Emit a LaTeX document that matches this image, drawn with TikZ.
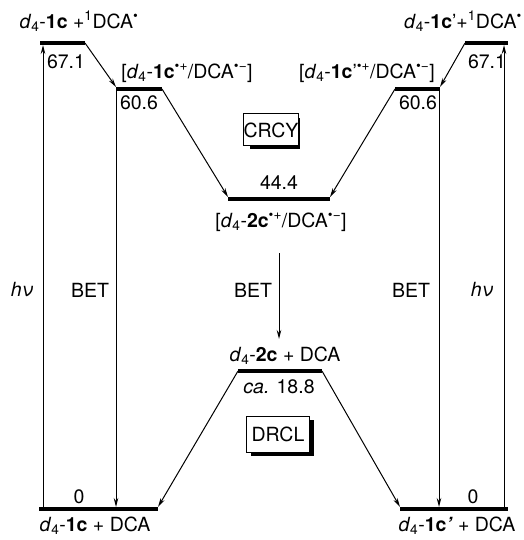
\documentclass[tikz,border=0pt]{standalone}
\usepackage{fontspec}
\setmainfont{TeX Gyre Heros}
\usetikzlibrary{arrows.meta}
\newcommand\dd{\textit{d}\textsubscript{4}-}
\newcommand\rcat{\textsuperscript{\textbullet+}}
\newcommand\ran{\textsuperscript{\textbullet−}}
\newcommand\rdot{\textsuperscript{\textbullet}}
\begin{document}
\begin{tikzpicture}[x=1pt,y=-1pt,
  level/.style={line width=4pt},
  arr/.style={line width=1pt,-{Stealth[length=9pt,width=4.5pt]}},
  lbl/.style={font=\fontsize{19.5}{21}\selectfont,inner sep=0pt},
  boxnode/.style={draw,line width=1pt,fill=white,font=\fontsize{19.5}{21}\selectfont,inner sep=0pt}]
\useasboundingbox (0,0) rectangle (523,540);
% level coordinates
\coordinate (Aa) at (40,43);  \coordinate (Ab) at (85,43);
\coordinate (Ba) at (116,89); \coordinate (Bb) at (162,89);
\coordinate (Ca) at (228,199);\coordinate (Cb) at (330,199);
\coordinate (Da) at (395,89); \coordinate (Db) at (440,89);
\coordinate (Ea) at (465,43); \coordinate (Eb) at (508,43);
\coordinate (Fa) at (238,371);\coordinate (Fb) at (322,371);
\coordinate (Ga) at (39,509); \coordinate (Gb) at (158,509);
\coordinate (Ha) at (400,509);\coordinate (Hb) at (508,509);
\foreach \p in {A,B,C,D,E,F,G,H} {\draw[level] (\p a) -- (\p b);}
% vertical arrow ends
\coordinate (hvLb) at (43,507); \coordinate (hvLt) at (43,45);
\coordinate (betLt) at (116,91); \coordinate (betLb) at (116,507);
\coordinate (betRt) at (439,91); \coordinate (betRb) at (439,507);
\coordinate (hvRb) at (504,507); \coordinate (hvRt) at (504,45);
\coordinate (betCt) at (279,253); \coordinate (betCb) at (279,339);
\draw[arr] (hvLb) -- (hvLt);
\draw[arr] (betLt) -- (betLb);
\draw[arr] (betRt) -- (betRb);
\draw[arr] (hvRb) -- (hvRt);
\draw[arr] (betCt) -- (betCb);
% diagonal arrows
\draw[arr] (Ab) -- ([shift={(0,-2)}]Ba);
\draw[arr] (Bb) -- ([shift={(0,-2)}]Ca);
\draw[arr] (Ea) -- ([shift={(0,-2)}]Db);
\draw[arr] (Da) -- ([shift={(0,-2)}]Cb);
\draw[arr] (Fa) -- ([shift={(0,-2)}]Gb);
\draw[arr] (Fb) -- ([shift={(0,-2)}]Ha);
% boxes with shadow
\fill (250,118) rectangle (300,149);
\node[boxnode,minimum width=51pt,minimum height=32pt] (crcy) at (271,130) {CRCY};
\fill (251,420) rectangle (314,456);
\node[boxnode,minimum width=63pt,minimum height=36pt] (drcl) at (278,434) {DRCL};
% labels
\node[lbl] (t1) at (79,21) {\dd\textbf{1c} +\textsuperscript{1}DCA\rdot};
\node[lbl] (v1) at (66,62) {67.1};
\node[lbl] (t2) at (187,73) {[\dd\textbf{1c}\rcat/DCA\ran]};
\node[lbl] (v2) at (139,103) {60.6};
\node[lbl] (t3) at (463,21) {\dd\textbf{1c}'+\textsuperscript{1}DCA\rdot};
\node[lbl] (v3) at (487,62) {67.1};
\node[lbl] (t4) at (367,73) {[\dd\textbf{1c}'\rcat/DCA\ran]};
\node[lbl] (v4) at (418,103) {60.6};
\node[lbl] (v5) at (279,183) {44.4};
\node[lbl] (t5) at (281,222) {[\dd\textbf{2c}\rcat/DCA\ran]};
\node[lbl] (b0) at (253,290) {BET};
\node[lbl] (b1) at (90,290) {BET};
\node[lbl] (b2) at (411,290) {BET};
\node[lbl] (h1) at (22,290) {\textit{hν}};
\node[lbl] (h2) at (482,290) {\textit{hν}};
\node[lbl] (t6) at (285,356) {\dd\textbf{2c} + DCA};
\node[lbl] (v6) at (279,387) {\textit{ca.} 18.8};
\node[lbl] (v7) at (79,497) {0};
\node[lbl] (t7) at (95,526) {\dd\textbf{1c} + DCA};
\node[lbl] (v8) at (473,497) {0};
\node[lbl] (t8) at (457,526) {\dd\textbf{1c}\textit{\textbf{'}} + DCA};
\end{tikzpicture}
\end{document}
